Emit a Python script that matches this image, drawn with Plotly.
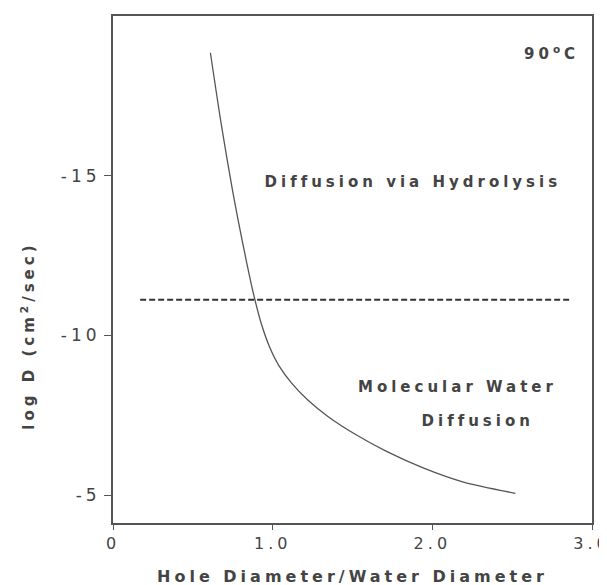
import plotly.graph_objects as go

# curve (hole diameter ratio vs log D)
ratio = [0.61, 0.68, 0.75, 0.82, 0.88, 0.93, 0.98, 1.04, 1.12, 1.22, 1.35, 1.52, 1.71, 1.95, 2.19, 2.52]
log_d = [-18.85, -16.55, -14.5, -12.7, -11.3, -10.35, -9.65, -9.05, -8.5, -7.98, -7.45, -6.9, -6.38,
         -5.84, -5.42, -5.06]

# dashed boundary between the two regimes
boundary_x = [0.17, 2.87]
boundary_y = [-11.12, -11.12]

x_ticks = [0, 1, 2, 3]
x_labels = ['0', '1.0', '2.0', '3.0']
y_ticks = [-15, -10, -5]
y_labels = ['-15', '-10', '-5']

ink = '#444'
font = 'DejaVu Sans'

fig = go.Figure()
fig.add_trace(go.Scatter(x=ratio, y=log_d, mode='lines',
                         line=dict(color='#555', width=1.3, shape='spline', smoothing=0.8),
                         showlegend=False))
fig.add_trace(go.Scatter(x=boundary_x, y=boundary_y, mode='lines',
                         line=dict(color='#333', width=2, dash='6px,3px'), showlegend=False))

labels = [
    ('90<sup>o</sup>C', 2.88, -18.85, 'right'),
    ('Diffusion via Hydrolysis', 1.88, -14.8, 'center'),
    ('Molecular Water', 2.16, -8.4, 'center'),
    ('Diffusion', 2.28, -7.33, 'center'),
]
for text, x, y, align in labels:
    fig.add_annotation(x=x, y=y, text='<b>' + text + '</b>', showarrow=False, xanchor=align,
                       font=dict(family=font, size=15, color=ink))

fig.add_annotation(xref='paper', yref='paper', x=-0.177, y=0.37, xanchor='center', yanchor='middle',
                   text='<b>log D (cm<sup>2</sup>/sec)</b>', showarrow=False, textangle=-90,
                   font=dict(family=font, size=15, color=ink))

fig.update_xaxes(range=[0, 3], tickvals=x_ticks, ticktext=x_labels, showline=True, mirror=True,
                 linecolor='#555', linewidth=2, ticks='outside', ticklen=5, tickcolor='#555',
                 showgrid=False, zeroline=False, tickfont=dict(family=font, size=16, color=ink),
                 title=dict(text='<b>Hole Diameter/Water Diameter</b>', standoff=19,
                            font=dict(family=font, size=16, color=ink)))
fig.update_yaxes(range=[-4.13, -20], tickvals=y_ticks, ticktext=y_labels, showline=True, mirror=True,
                 linecolor='#555', linewidth=2, ticks='outside', ticklen=7, tickcolor='#555',
                 showgrid=False, zeroline=False, tickfont=dict(family=font, size=17, color=ink))

fig.update_layout(width=607, height=585, margin=dict(l=105, r=23, t=6, b=70),
                  plot_bgcolor='white', paper_bgcolor='white')

# the scanned figure uses widely tracked lettering
spacing = ("document.getElementById('{plot_id}').querySelectorAll('svg text')"
           ".forEach(function(t){t.style.letterSpacing='4px';});")
fig.write_html('out.html', post_script=spacing)
